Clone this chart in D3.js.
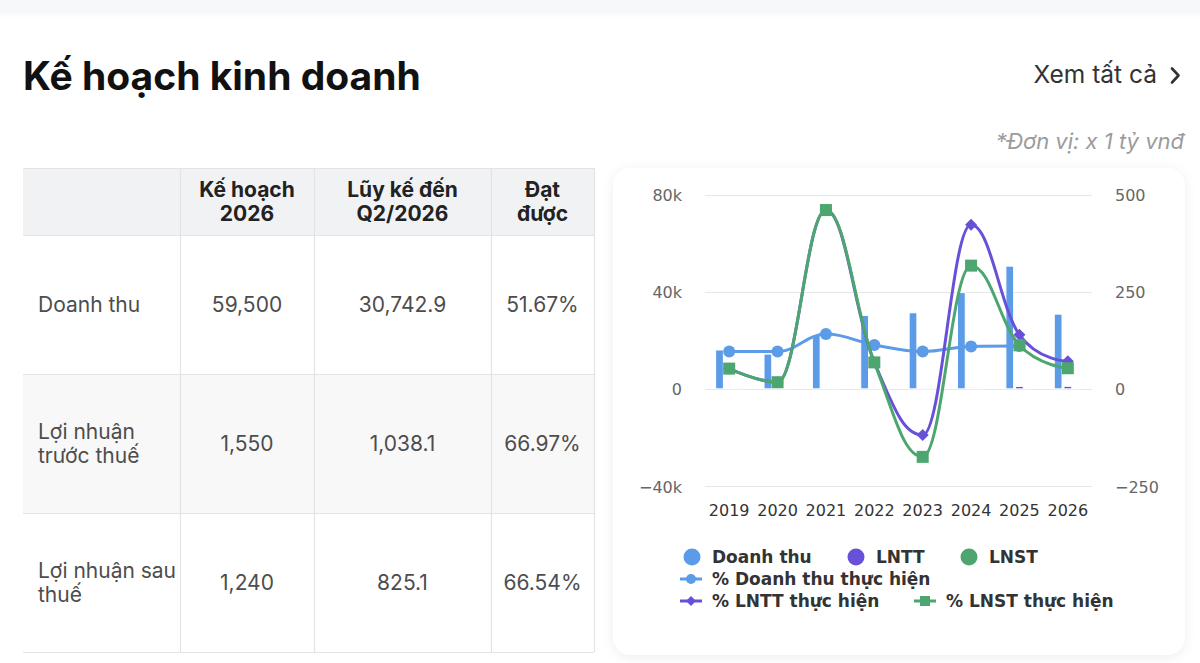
<!DOCTYPE html>
<html lang="vi">
<head>
<meta charset="utf-8">
<script src="https://cdn.jsdelivr.net/npm/d3@7/dist/d3.min.js"></script>
<style>
  html, body { margin: 0; padding: 0; background: #ffffff; }
  svg { display: block; }
</style>
</head>
<body>
<svg id="root" width="1200" height="663"></svg>
<script>
// ---------------- DATA ----------------
const years = ["2019", "2020", "2021", "2022", "2023", "2024", "2025", "2026"];
const revenue = [16000, 14300, 22000, 30200, 31300, 39600, 50500, 30743];      // Doanh thu
const profitBT = [150, 60, 300, 250, -200, 400, 1000, 1038];                     // LNTT
const profitAT = [60, 30, 120, 100, -120, 150, 200, 180];                        // LNST
const pctRevenue = [96, 96, 141, 113, 96, 109, 110, null];                       // % Doanh thu thực hiện
const pctProfitBT = [52, 17, 460, 68, -119, 422, 139, 71];                       // % LNTT thực hiện
const pctProfitAT = [52, 17, 460, 68, -175, 317, 112, 53];                       // % LNST thực hiện
const leftTicks = [-40000, 0, 40000, 80000];
const rightTicks = [-250, 0, 250, 500];

const barSeries = ["Doanh thu", "LNTT", "LNST"];
const lineSeries = ["% Doanh thu thực hiện", "% LNTT thực hiện", "% LNST thực hiện"];

const tableHeaders = ["", "Kế hoạch\n2026", "Lũy kế đến\nQ2/2026", "Đạt\nđược"];
const rowLabels = ["Doanh thu", "Lợi nhuận\ntrước thuế", "Lợi nhuận sau\nthuế"];
const planValues = ["59,500", "1,550", "1,240"];
const cumulativeValues = ["30,742.9", "1,038.1", "825.1"];
const achievedValues = ["51.67%", "66.97%", "66.54%"];

const titleText = "Kế hoạch kinh doanh";
const linkText = "Xem tất cả";
const unitText = "*Đơn vị: x 1 tỷ vnđ";

// ---------------- STYLE ----------------
const C_BLUE = "#5b9be8", C_PURPLE = "#6851d8", C_GREEN = "#4da66f";
const barColors = [C_BLUE, C_PURPLE, C_GREEN];
const lineColors = [C_BLUE, C_PURPLE, C_GREEN];
const markerTypes = ["circle", "diamond", "square"];
const UI = "Inter, 'Noto Sans', 'Open Sans', sans-serif";
const CH = "'DejaVu Sans', Verdana, sans-serif";

const svg = d3.select("#root");
const defs = svg.append("defs");
const f = defs.append("filter").attr("id", "cardShadow").attr("x", "-10%").attr("y", "-10%").attr("width", "120%").attr("height", "120%");
f.append("feDropShadow").attr("dx", 0).attr("dy", 2).attr("stdDeviation", 6).attr("flood-color", "#000").attr("flood-opacity", 0.07);
const f2 = defs.append("filter").attr("id", "topShadow").attr("x", "-5%").attr("y", "-50%").attr("width", "110%").attr("height", "300%");
f2.append("feDropShadow").attr("dx", 0).attr("dy", 2).attr("stdDeviation", 3).attr("flood-color", "#000").attr("flood-opacity", 0.05);

// top strip (bottom edge of previous card)
svg.append("rect").attr("x", -10).attr("y", -20).attr("width", 1220).attr("height", 31)
  .attr("fill", "#f7f8fa").attr("filter", "url(#topShadow)");

// ---------------- HEADER ----------------
svg.append("text").attr("x", 23).attr("y", 90).text(titleText)
  .attr("font-family", UI).attr("font-weight", 700).attr("font-size", 39).attr("fill", "#111");
svg.append("text").attr("x", 1157).attr("y", 83).attr("text-anchor", "end").text(linkText)
  .attr("font-family", UI).attr("font-size", 24.5).attr("fill", "#333");
svg.append("path").attr("d", "M1172,68.5 L1178.5,75.5 L1172,82.5").attr("fill", "none")
  .attr("stroke", "#333").attr("stroke-width", 2.6).attr("stroke-linecap", "round").attr("stroke-linejoin", "round");
svg.append("text").attr("x", 1184).attr("y", 149).attr("text-anchor", "end").text(unitText)
  .attr("font-family", UI).attr("font-style", "italic").attr("font-size", 22).attr("fill", "#9b9b9b");

// ---------------- TABLE ----------------
const colEdges = [23, 180, 314, 491, 594];
const rowEdges = [168, 235, 374, 513, 652];
const tbl = svg.append("g");
tbl.append("rect").attr("x", colEdges[0]).attr("y", rowEdges[0]).attr("width", colEdges[4] - colEdges[0])
  .attr("height", rowEdges[1] - rowEdges[0]).attr("fill", "#f1f2f4");
tbl.append("rect").attr("x", colEdges[0]).attr("y", rowEdges[2]).attr("width", colEdges[4] - colEdges[0])
  .attr("height", rowEdges[3] - rowEdges[2]).attr("fill", "#f8f8f9");
tbl.selectAll("line.h").data(rowEdges).join("line").attr("class", "h")
  .attr("x1", colEdges[0]).attr("x2", colEdges[4]).attr("y1", d => d + 0.5).attr("y2", d => d + 0.5)
  .attr("stroke", "#e2e3e6").attr("stroke-width", 1.2);
tbl.selectAll("line.v").data(colEdges.slice(1)).join("line").attr("class", "v")
  .attr("x1", d => d + 0.5).attr("x2", d => d + 0.5).attr("y1", rowEdges[0]).attr("y2", rowEdges[4])
  .attr("stroke", "#e2e3e6").attr("stroke-width", 1.2);

function multiline(g, x, yMid, txt, anchor, size, weight, fill, lh) {
  const lines = txt.split("\n");
  const t = g.append("text").attr("text-anchor", anchor).attr("font-family", UI)
    .attr("font-size", size).attr("font-weight", weight).attr("fill", fill);
  lines.forEach((ln, i) => {
    t.append("tspan").attr("x", x).attr("y", yMid + (i - (lines.length - 1) / 2) * lh).attr("dy", "0.36em").text(ln);
  });
}
const colMid = i => (colEdges[i] + colEdges[i + 1]) / 2;
const rowMid = i => (rowEdges[i] + rowEdges[i + 1]) / 2;
tableHeaders.forEach((h, i) => { if (h) multiline(tbl, colMid(i), rowMid(0), h, "middle", 21, 700, "#222", 24); });
rowLabels.forEach((r, i) => {
  multiline(tbl, 38, rowMid(i + 1), r, "start", 21, 400, "#4d4d4d", 24);
  multiline(tbl, colMid(1), rowMid(i + 1), planValues[i], "middle", 21, 400, "#4d4d4d", 24);
  multiline(tbl, colMid(2), rowMid(i + 1), cumulativeValues[i], "middle", 21, 400, "#4d4d4d", 24);
  multiline(tbl, colMid(3), rowMid(i + 1), achievedValues[i], "middle", 21, 400, "#4d4d4d", 24);
});

// ---------------- CHART CARD ----------------
svg.append("rect").attr("x", 613).attr("y", 168).attr("width", 572).attr("height", 487).attr("rx", 18)
  .attr("fill", "#fff").attr("filter", "url(#cardShadow)");

const x = d3.scaleBand().domain(years).range([705, 1092]);
const yL = d3.scaleLinear().domain([-40000, 80000]).range([486, 194.5]);
const yR = d3.scaleLinear().domain([-250, 500]).range([486, 194.5]);
const bw = x.bandwidth();
const sub = d3.scaleBand().domain(barSeries).range([0.2 * bw, 0.8 * bw]);

const chart = svg.append("g");
chart.append("g").selectAll("line").data(leftTicks).join("line")
  .attr("x1", x.range()[0]).attr("x2", x.range()[1])
  .attr("y1", d => Math.round(yL(d)) + 0.5).attr("y2", d => Math.round(yL(d)) + 0.5)
  .attr("stroke", "#e6e6e6").attr("stroke-width", 1);

const fmtK = d => (d < 0 ? "\u2212" : "") + (d === 0 ? "0" : Math.abs(d / 1000) + "k");
const axL = chart.append("g").attr("transform", "translate(682,0)")
  .call(d3.axisLeft(yL).tickValues(leftTicks).tickFormat(fmtK).tickSize(0).tickPadding(0));
axL.select(".domain").remove();
axL.selectAll("text").attr("font-family", CH).attr("font-size", 16).attr("fill", "#666").attr("dy", "0.38em");
const fmtR = d => (d < 0 ? "\u2212" + Math.abs(d) : String(d));
const axR = chart.append("g").attr("transform", "translate(1115,0)")
  .call(d3.axisRight(yR).tickValues(rightTicks).tickFormat(fmtR).tickSize(0).tickPadding(0));
axR.select(".domain").remove();
axR.selectAll("text").attr("font-family", CH).attr("font-size", 16).attr("fill", "#666").attr("dy", "0.38em");
const axX = chart.append("g").attr("transform", "translate(0,486)")
  .call(d3.axisBottom(x).tickSize(0).tickPadding(0));
axX.select(".domain").remove();
axX.selectAll("text").attr("font-family", CH).attr("font-size", 16).attr("fill", "#333").attr("dy", "30px");

const barData = [revenue, profitBT, profitAT];
barSeries.forEach((s, si) => {
  chart.append("g").selectAll("rect").data(years).join("rect")
    .attr("x", d => x(d) + sub(s) + sub.bandwidth() * 0.1)
    .attr("width", sub.bandwidth() * 0.8)
    .attr("y", (d, i) => Math.min(yL(0), yL(barData[si][i])))
    .attr("height", (d, i) => Math.abs(yL(barData[si][i]) - yL(0)))
    .attr("fill", barColors[si]).attr("stroke", "#fff").attr("stroke-width", 1);
});

// Highcharts-like spline curve
function hcSpline(context) {
  let pts;
  return {
    areaStart() {}, areaEnd() {},
    lineStart() { pts = []; },
    point(px, py) { pts.push([+px, +py]); },
    lineEnd() {
      const n = pts.length; if (!n) return;
      const sm = 1.5, den = sm + 1;
      const ctrl = pts.map((p, i) => {
        if (i === 0 || i === n - 1) return null;
        const [lx, ly] = pts[i - 1], [nx, ny] = pts[i + 1], [px, py] = p;
        let lcx = (sm * px + lx) / den, lcy = (sm * py + ly) / den;
        let rcx = (sm * px + nx) / den, rcy = (sm * py + ny) / den;
        let corr = 0;
        if (rcx !== lcx) corr = ((rcy - lcy) * (rcx - px)) / (rcx - lcx) + py - rcy;
        lcy += corr; rcy += corr;
        if (lcy > ly && lcy > py) { lcy = Math.max(ly, py); rcy = 2 * py - lcy; }
        else if (lcy < ly && lcy < py) { lcy = Math.min(ly, py); rcy = 2 * py - lcy; }
        if (rcy > ny && rcy > py) { rcy = Math.max(ny, py); lcy = 2 * py - rcy; }
        else if (rcy < ny && rcy < py) { rcy = Math.min(ny, py); lcy = 2 * py - rcy; }
        return { lcx, lcy, rcx, rcy };
      });
      context.moveTo(pts[0][0], pts[0][1]);
      for (let i = 1; i < n; i++) {
        const a = ctrl[i - 1], b = ctrl[i];
        context.bezierCurveTo(
          a ? a.rcx : pts[i - 1][0], a ? a.rcy : pts[i - 1][1],
          b ? b.lcx : pts[i][0], b ? b.lcy : pts[i][1],
          pts[i][0], pts[i][1]);
      }
    }
  };
}

function marker(g, type, cx, cy, r, color) {
  if (type === "circle") g.append("circle").attr("cx", cx).attr("cy", cy).attr("r", r).attr("fill", color);
  else if (type === "square") g.append("rect").attr("x", cx - r).attr("y", cy - r).attr("width", 2 * r).attr("height", 2 * r).attr("fill", color);
  else g.append("path").attr("d", `M${cx},${cy - r} L${cx + r},${cy} L${cx},${cy + r} L${cx - r},${cy} Z`).attr("fill", color);
}

const lineData = [pctRevenue, pctProfitBT, pctProfitAT];
lineSeries.forEach((s, si) => {
  const vals = lineData[si];
  const line = d3.line().defined((d, i) => vals[i] !== null)
    .x(d => x(d) + bw / 2).y((d, i) => yR(vals[i])).curve(hcSpline);
  const g = chart.append("g");
  g.append("path").attr("d", line(years)).attr("fill", "none").attr("stroke", lineColors[si])
    .attr("stroke-width", 3).attr("stroke-linejoin", "round").attr("stroke-linecap", "round");
  years.forEach((yr, i) => {
    if (vals[i] === null) return;
    marker(g, markerTypes[si], x(yr) + bw / 2, yR(vals[i]), 6, lineColors[si]);
  });
});

// ---------------- LEGEND ----------------
const leg = svg.append("g").attr("font-family", CH).attr("font-weight", "bold").attr("font-size", 17).attr("fill", "#333");
const barLegendX = [692, 856, 969];
barSeries.forEach((s, i) => {
  leg.append("circle").attr("cx", barLegendX[i]).attr("cy", 557).attr("r", 8.5).attr("fill", barColors[i]);
  leg.append("text").attr("x", barLegendX[i] + 20).attr("y", 557).attr("dy", "0.36em").text(s);
});
const lineLegendPos = [[680, 579], [680, 601], [914, 601]];
lineSeries.forEach((s, i) => {
  const [lx, ly] = lineLegendPos[i];
  leg.append("line").attr("x1", lx).attr("x2", lx + 22).attr("y1", ly).attr("y2", ly)
    .attr("stroke", lineColors[i]).attr("stroke-width", 3);
  marker(leg, markerTypes[i], lx + 11, ly, 5, lineColors[i]);
  leg.append("text").attr("x", lx + 32).attr("y", ly).attr("dy", "0.36em").text(s);
});
</script>
</body>
</html>
